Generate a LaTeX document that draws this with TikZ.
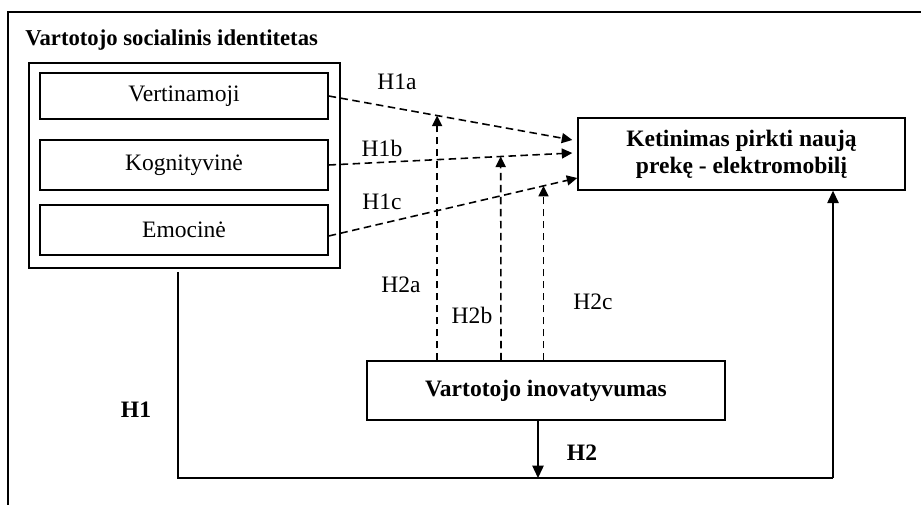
\documentclass[tikz,border=0pt]{standalone}
\usepackage{fontspec}
\setmainfont{Liberation Serif}
\usetikzlibrary{calc,arrows.meta}
\tikzset{
	box/.style={draw, line width=0.8pt, inner sep=0pt, align=center, font=\fontsize{13.4}{15.5}\selectfont},
	boldbox/.style={box, font=\fontsize{13.4}{15.5}\selectfont\bfseries},
	hyp/.style={font=\fontsize{13.4}{16}\selectfont},
	boldhyp/.style={font=\fontsize{13.4}{16}\selectfont\bfseries},
	dasharrow/.style={line width=0.9pt, dash pattern=on 1.5mm off 0.9mm, -{Triangle[length=2.1mm,width=2mm]}},
	linearrow/.style={line width=0.8pt, -{Triangle[length=2.5mm,width=2.3mm]}}
}

\begin{document}
\begin{tikzpicture}[x=0.2mm, y=-0.2mm]
		%%%%% START %%%%%
		\useasboundingbox (0,0) rectangle (921,505);
		
		\draw[line width=0.8pt] (8,505) -- (8,12) -- (921,12);
		\node[anchor=west, inner sep=0pt, font=\fontsize{12.9}{15}\selectfont\bfseries] (title) at (25,40) {Vartotojo socialinis identitetas};
		
		\node[box, minimum width=62.2mm, minimum height=41mm] (grp) at (184.5,165.5) {};
		\node[box, minimum width=57.6mm, minimum height=9.2mm] (vert) at (184,96) {Vertinamoji};
		\node[box, minimum width=57.6mm, minimum height=10mm] (kog) at (184,165) {Kognityvinė};
		\node[box, minimum width=57.6mm, minimum height=10mm] (emo) at (184,230) {Emocinė};
		
		\node[boldbox, minimum width=65.4mm, minimum height=14.4mm] (tgt) at (741.5,154) {Ketinimas pirkti naują\\prekę - elektromobilį};
		\node[boldbox, minimum width=71.6mm, minimum height=11.8mm] (inov) at (546,390.5) {Vartotojo inovatyvumas};
		
		\draw[dasharrow] (vert.east) -- coordinate[pos=0.445] (m1) ($(tgt.west)+(-5,-14)$);
		\draw[dasharrow] (kog.east) -- coordinate[pos=0.706] (m2) ($(tgt.west)+(-5,-1)$);
		\draw[dasharrow] ($(emo.east)+(0,6)$) -- coordinate[pos=0.864] (m3) ($(tgt.west)+(0,24)$);
		
		\draw[dasharrow] (inov.north -| m1) -- (m1);
		\draw[dasharrow] (inov.north -| 501,0) -- (m2);
		\draw[dasharrow] (inov.north -| m3) -- (m3);
		
		\coordinate (h1top) at (178,272);
		\coordinate (corner) at (833,478);
		\coordinate (h2end) at (538,478);
		\draw[line width=0.8pt] (h1top) |- (corner);
		\draw[linearrow] (corner) -- (tgt.south -| corner);
		\draw[linearrow] (inov.south -| h2end) -- (h2end);
		
		\node[hyp] (h1a) at (397,82) {H1a};
		\node[hyp] (h1b) at (382,148) {H1b};
		\node[hyp] (h1c) at (382,202) {H1c};
		\node[hyp] (h2a) at (401,285) {H2a};
		\node[hyp] (h2b) at (472,315) {H2b};
		\node[hyp] (h2c) at (593,302) {H2c};
		\node[boldhyp] (h1) at (136,410) {H1};
		\node[boldhyp] (h2) at (582,453) {H2};
		%%%%% END %%%%%
	\end{tikzpicture}
\end{document}
